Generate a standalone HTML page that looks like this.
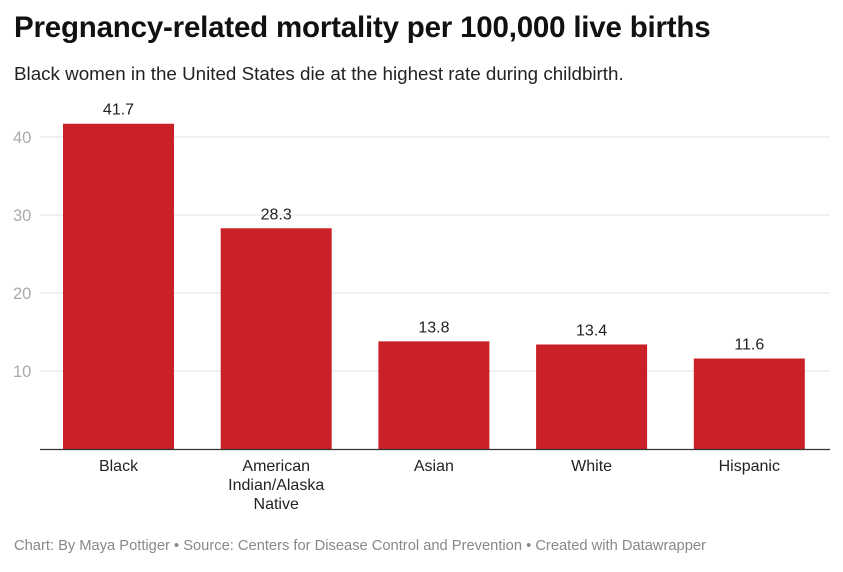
<!DOCTYPE html>
<html><head><meta charset="utf-8"><style>
body{margin:0;background:#fff;font-family:"Liberation Sans",sans-serif;}
#wrap{position:relative;width:843px;height:572px;overflow:hidden}
h1{position:absolute;left:14px;top:11px;margin:0;font-size:29.5px;font-weight:bold;color:#111;letter-spacing:-0.2px}
.sub{position:absolute;left:14px;top:63px;font-size:18.8px;color:#222}
.foot{position:absolute;left:14px;top:538px;font-size:14.7px;color:#888}
</style></head><body><div id="wrap">
<h1>Pregnancy-related mortality per 100,000 live births</h1>
<div class="sub">Black women in the United States die at the highest rate during childbirth.</div>
<svg id="c" width="843" height="572" style="position:absolute;left:0;top:0"></svg>
<div class="foot">Chart: By Maya Pottiger • Source: Centers for Disease Control and Prevention • Created with Datawrapper</div>
</div>
<script>
const categories=["Black","American Indian/Alaska Native","Asian","White","Hispanic"];
const labelLines=[["Black"],["American","Indian/Alaska","Native"],["Asian"],["White"],["Hispanic"]];
const values=[41.7,28.3,13.8,13.4,11.6];
const yTicks=[10,20,30,40];
const ns="http://www.w3.org/2000/svg",svg=document.getElementById("c");
const y0=449,pxPer=7.8,x0=40,x1=830,bandStart=63,bandStep=157.7,barW=111;
const y=v=>y0-v*pxPer, x=i=>bandStart+i*bandStep;
function mk(t,a){const e=document.createElementNS(ns,t);for(const k in a)e.setAttribute(k,a[k]);svg.appendChild(e);return e;}
yTicks.forEach(t=>{
 const g=mk("line",{x1:x0,x2:x1,y1:y(t),y2:y(t),stroke:"#e3e3e3","stroke-width":1});
 
 
 const l=mk("text",{x:13,y:y(t)+6,"font-size":16.5,fill:"#aaa"});l.textContent=t;
 
 
});
values.forEach((v,i)=>{
 const b=mk("rect",{x:x(i),y:y(v),width:barW,height:y0-y(v),fill:"#c92127"});
 
 
 const t=mk("text",{x:x(i)+barW/2,y:y(v)-9,"font-size":16,fill:"#222","text-anchor":"middle"});t.textContent=v.toFixed(1);
 
 
 labelLines[i].forEach((s,j)=>{
  const c=mk("text",{x:x(i)+barW/2,y:471+j*19,"font-size":16,fill:"#222","text-anchor":"middle"});c.textContent=s;
  
  
 });
});
const ax=mk("line",{x1:x0,x2:x1,y1:y0+0.5,y2:y0+0.5,stroke:"#333","stroke-width":1.2});


</script></body></html>
